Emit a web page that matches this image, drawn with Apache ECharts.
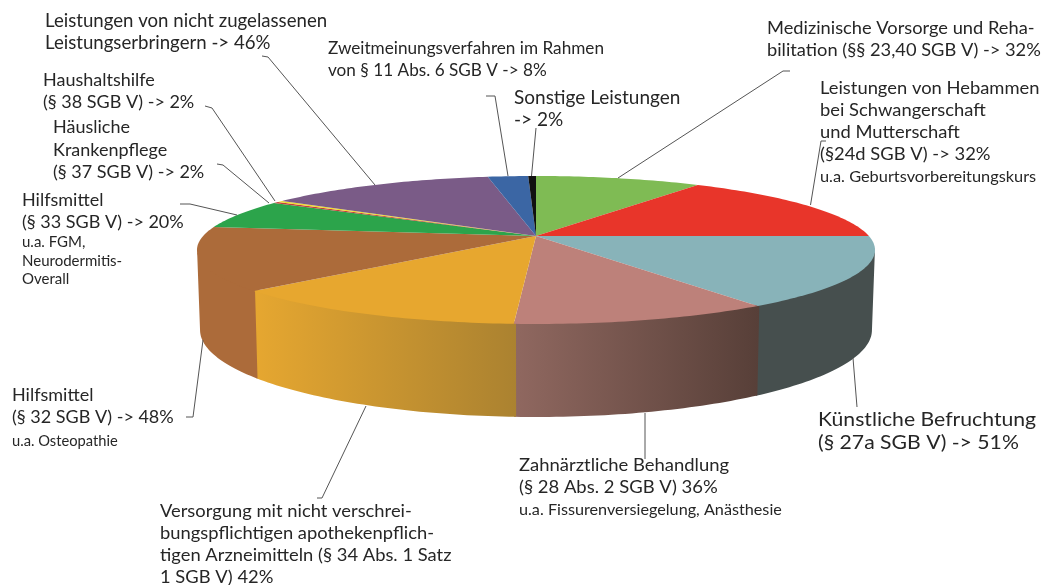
<!DOCTYPE html>
<html>
<head>
<meta charset="utf-8">
<title>Leistungen</title>
<script src="https://cdn.jsdelivr.net/npm/echarts@6/dist/echarts.min.js"></script>
<style>
	html, body { margin: 0; padding: 0; background: #fff; }
	#chart-container { width: 1042px; height: 585px; }
</style>
</head>
<body>
<div id="chart-container"></div>
<script>
// slices clockwise from 12 o'clock
const sliceNames = ['Medizinische Vorsorge', 'Hebammen', 'Künstliche Befruchtung', 'Zahnärztliche Behandlung',
	'Nicht verschreibungspflichtige Arzneimittel', 'Hilfsmittel § 32', 'Hilfsmittel § 33', 'Häusliche Krankenpflege',
	'Haushaltshilfe', 'Nicht zugelassene Leistungserbringer', 'Zweitmeinungsverfahren', 'Sonstige Leistungen'];
// slice sizes as drawn in the picture (they do not follow the printed percentages exactly)
const sliceSizes = [34.2, 55.8, 55.8, 37.3, 44.6, 49.7, 23, 1.2, 1.2, 47.3, 8.3, 1.6];
const topColors = ['#7fbb54', '#e8352a', '#88b3b9', '#bd817a', '#e7a72f', '#ac6b3a', '#2ca44b', '#c2403a', '#f0dc30', '#7a5b87', '#3b66a4', '#111111'];
const sideColors = {
	2: ['#464f4e', '#464f4e'],
	3: ['#906860', '#573f38'],
	4: ['#e6a730', '#ab8230'],
	5: ['#ac6b3a', '#ac6b3a']
};

// text, x, y, font size, line height, horizontal squeeze
const labelBlocks = [
	['Leistungen von nicht zugelassenen\nLeistungserbringern -> 46%', 45, 10, 19, 22, 0.98],
	['Haushaltshilfe\n(§ 38 SGB V) -> 2%', 43, 69, 18, 22, 1],
	['Häusliche\nKrankenpflege\n(§ 37 SGB V) -> 2%', 53, 116, 18, 22.5, 1],
	['Hilfsmittel\n(§ 33 SGB V) -> 20%', 22, 189, 18, 22, 1],
	['u.a. FGM,\nNeurodermitis-\nOverall', 22, 233, 15, 18.5, 1],
	['Zweitmeinungsverfahren im Rahmen\nvon § 11 Abs. 6 SGB V -> 8%', 328, 38, 17, 22, 1.01],
	['Sonstige Leistungen\n-> 2%', 514, 87, 19, 22, 1],
	['Medizinische Vorsorge und Reha-\nbilitation (§§ 23,40 SGB V) -> 32%', 767, 17, 18, 22, 1.015],
	['Leistungen von Hebammen\nbei Schwangerschaft\nund Mutterschaft\n(§24d SGB V) -> 32%', 820, 77, 18, 22, 1.02],
	['u.a. Geburtsvorbereitungskurs', 820, 168, 15, 18, 1.09],
	['Hilfsmittel\n(§ 32 SGB V) -> 48%', 12, 384, 18, 22, 1],
	['u.a. Osteopathie', 12, 432, 14.7, 18, 1],
	['Künstliche Befruchtung\n(§ 27a SGB V) -> 51%', 818, 408, 19, 23, 1.115],
	['Zahnärztliche Behandlung\n(§ 28 Abs. 2 SGB V) 36%', 519, 454, 18, 22, 1.025],
	['u.a. Fissurenversiegelung, Anästhesie', 519, 501, 15, 18, 1.08],
	['Versorgung mit nicht verschrei-\nbungspflichtigen apothekenpflich-\ntigen Arzneimitteln (§ 34 Abs. 1 Satz\n1 SGB V) 42%', 160, 500, 18, 22, 1.02]
];

const leaderLines = [
	[[262, 56], [268, 57], [375, 185]],
	[[205, 106], [212, 108], [275, 201]],
	[[217, 164], [223, 165], [269, 203]],
	[[180, 204], [190, 204], [237, 215]],
	[[486, 96], [495, 96], [508, 176]],
	[[536, 128], [531.5, 176]],
	[[790, 71], [783, 71], [618, 178]],
	[[826, 141], [821, 141], [810.5, 205]],
	[[853, 358], [857, 407]],
	[[645, 413], [645, 459]],
	[[366, 406], [322, 498], [317, 498]],
	[[203, 340], [193, 417], [186, 417]]
];

// perspective of the disc, in axis units (top ellipse is the unit ellipse)
const tilt = -0.189;
const apexY = 0.189;
const widthFactor = 0.982;
const bottomScaleX = 0.991;
const bottomScaleY = 1.176;
const bottomShiftY = -1.081;
const frontFrom = 100.9, frontTo = 259.1; // silhouette of the disc
const seamOverlap = 0.3;
const seamLift = 0.03;

const total = sliceSizes.reduce((a, b) => a + b, 0);
let acc = 0;
const sliceAngles = sliceSizes.map(v => {
	const start = acc;
	acc += v / total * 360;
	return [start, acc];
});

const rimPoint = deg => {
	const t = deg * Math.PI / 180;
	const u = Math.sin(t), v = -Math.cos(t);
	const d = 1 + tilt * v;
	return [widthFactor * u / d, -(v - apexY) / d];
};
const arc = (a, b) => {
	const pts = [];
	const n = Math.max(2, Math.ceil(b - a));
	for (let i = 0; i <= n; i++) pts.push(rimPoint(a + (b - a) * i / n));
	return pts;
};
const toBottom = p => [p[0] * bottomScaleX, p[1] * bottomScaleY + bottomShiftY];

const renderSide = (params, api) => {
	const i = api.value(0);
	const colors = sideColors[i];
	if (!colors) return;
	const a = Math.max(sliceAngles[i][0] - seamOverlap, frontFrom), b = Math.min(sliceAngles[i][1], frontTo);
	if (b <= a) return;
	const top = arc(a, b);
	// the upper edge slips under the top face so no white seam shows
	const upper = top.map(p => [p[0], p[1] + seamLift]);
	const pts = upper.concat(top.slice().reverse().map(toBottom)).map(p => api.coord(p));
	return {
		type: 'polygon',
		shape: { points: pts },
		style: {
			fill: new echarts.graphic.LinearGradient(0, 0, 1, 0, [
				{ offset: 0, color: colors[0] },
				{ offset: 1, color: colors[1] }
			])
		}
	};
};

const renderTop = (params, api) => {
	const i = api.value(0);
	const pts = [[0, apexY]].concat(arc(sliceAngles[i][0], sliceAngles[i][1])).map(p => api.coord(p));
	return {
		type: 'polygon',
		shape: { points: pts },
		style: { fill: topColors[i] }
	};
};

const graphics = [];
leaderLines.forEach(points => {
	graphics.push({
		type: 'polyline',
		silent: true,
		z: 5,
		shape: { points: points },
		style: { stroke: '#555', lineWidth: 1, fill: null }
	});
});
labelBlocks.forEach(b => {
	graphics.push({
		type: 'text',
		silent: true,
		z: 6,
		x: b[1],
		y: b[2],
		scaleX: b[5],
		style: {
			text: b[0],
			font: b[3] + 'px Lato',
			lineHeight: b[4],
			fill: '#262626',
			textAlign: 'left',
			textVerticalAlign: 'top'
		}
	});
});

const sliceData = sliceNames.map((name, i) => ({ name: name, value: [i, sliceSizes[i]] }));

const myChart = echarts.init(document.getElementById('chart-container'), null, { renderer: 'canvas' });
myChart.setOption({
	animation: false,
	backgroundColor: '#fff',
	grid: { left: 197, width: 678, top: 176, height: 241 },
	xAxis: { type: 'value', min: -1, max: 1, show: false },
	yAxis: { type: 'value', min: -2.257, max: 1, show: false },
	graphic: graphics,
	series: [
		{ type: 'custom', silent: true, clip: false, z: 2, encode: { x: 0, y: 1 }, renderItem: renderSide, data: sliceData },
		{ type: 'custom', silent: true, clip: false, z: 3, encode: { x: 0, y: 1 }, renderItem: renderTop, data: sliceData }
	]
});
</script>
</body>
</html>
